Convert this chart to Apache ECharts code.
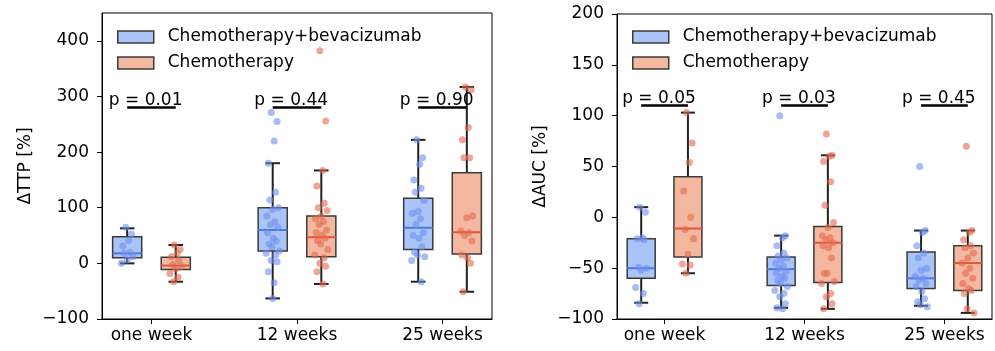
<!DOCTYPE html>
<html>
<head>
<meta charset="utf-8">
<script src="https://cdn.jsdelivr.net/npm/echarts@6/dist/echarts.min.js"></script>
<style>
  html, body { margin: 0; padding: 0; background: #fff; }
  #main { width: 995px; height: 351px; }
</style>
</head>
<body>
<div id="main"></div>
<script>
const categories = ['one week', '12 weeks', '25 weeks'];
const groupNames = ['Chemotherapy+bevacizumab', 'Chemotherapy'];

// box stats per time point: [low whisker, q1, median, q3, high whisker]
const ttpBoxBev = [[0, 10, 18, 48, 63], [-63, 22, 60, 100, 180], [-33, 25, 64, 117, 222]];
const ttpBoxChemo = [[-33, -11, -4, 11, 33], [-37, 12, 47, 85, 167], [-51, 17, 56, 163, 317]];
const aucBoxBev = [[-84, -60, -50, -21, 10], [-89, -67, -51, -39, -18], [-87, -70, -60, -34, -13]];
const aucBoxChemo = [[-55, -39, -11, 40, 103], [-90, -64, -25, -9, 61], [-94, -72, -45, -28, -13]];

// individual points per time point
const ttpPtsBev = [
  [65, 53, 41, 31, 20, 18, 12, 6, 0],
  [271, 255, 220, 180, 128, 114, 100, 97, 85, 75, 70, 65, 55, 45, 40, 35, 30, 22, 18, 15, 5, 3, -15, -35, -63],
  [222, 190, 178, 150, 135, 128, 113, 93, 90, 80, 70, 55, 50, 45, 30, 20, 15, 12, 5, -33]
];
const ttpPtsChemo = [
  [33, 25, 18, 12, 5, -2, -5, -10, -18, -25, -33],
  [382, 256, 167, 139, 108, 100, 95, 85, 80, 75, 70, 60, 55, 50, 45, 40, 35, 25, 15, 10, 0, -5, -15, -37],
  [317, 312, 244, 222, 190, 190, 85, 82, 58, 55, 50, 40, 15, 10, 0, -51]
];
const aucPtsBev = [
  [10, 5, -20, -21, -22, -49, -50, -52, -69, -75, -85],
  [100, -18, -20, -28, -35, -38, -40, -42, -45, -48, -50, -53, -55, -58, -60, -62, -65, -68, -72, -75, -78, -85, -89, -90],
  [50, -13, -15, -28, -35, -40, -50, -52, -58, -60, -62, -65, -68, -73, -80, -83, -86, -88]
];
const aucPtsChemo = [
  [103, 73, 54, 26, 0, -12, -21, -36, -46, -47, -55],
  [82, 61, 60, 55, 35, 12, -5, -10, -18, -20, -22, -25, -28, -30, -40, -55, -55, -63, -65, -75, -78, -85, -90],
  [70, -13, -15, -22, -28, -30, -35, -40, -45, -50, -55, -60, -65, -70, -72, -75, -90, -94]
];

// fixed horizontal jitter of the strip points (category units)
const jitter = [-0.01, 0.03, 0.01, -0.03, 0.02, -0.02, 0.04, 0.0, -0.04, 0.015, -0.015, 0.035,
  -0.035, 0.005, 0.025, -0.025, -0.005, 0.045, -0.045, 0.02, -0.01, 0.03, -0.03, 0.01, 0.0];

const ttpTicks = [-100, 0, 100, 200, 300, 400];
const aucTicks = [-100, -50, 0, 50, 100, 150, 200];

const ttpP = ['0.01', '0.44', '0.90'];
const aucP = ['0.05', '0.03', '0.45'];

const FONT = 'DejaVu Sans';
const OFF = 0.167, BOX_W = 0.2, CAP_W = 0.1;
const boxFill = ['#abc4f8', '#f4b8a1'];
const medColor = ['#4a78e6', '#e2553c'];
const ptColor = ['#6d90f0', '#e5694f'];
const edge = '#3a3a3a';

function boxSeries(gi, stats, panel) {
  const off = gi === 0 ? -OFF : OFF;
  return {
    type: 'custom', name: groupNames[gi], xAxisIndex: panel, yAxisIndex: panel, z: 2,
    data: stats.map((s, i) => [i].concat(s)),
    renderItem: function (params, api) {
      const x = api.value(0) + off;
      const p = k => api.coord([x, api.value(k)]);
      const lo = p(1), q1 = p(2), md = p(3), q3 = p(4), hi = p(5);
      const hw = api.size([BOX_W, 0])[0] / 2;
      const cw = api.size([CAP_W, 0])[0] / 2;
      const wl = { stroke: '#222', lineWidth: 2 };
      return {
        type: 'group',
        children: [
          { type: 'line', shape: { x1: lo[0], y1: lo[1], x2: q1[0], y2: q1[1] }, style: wl },
          { type: 'line', shape: { x1: q3[0], y1: q3[1], x2: hi[0], y2: hi[1] }, style: wl },
          { type: 'line', shape: { x1: lo[0] - cw, y1: lo[1], x2: lo[0] + cw, y2: lo[1] }, style: wl },
          { type: 'line', shape: { x1: hi[0] - cw, y1: hi[1], x2: hi[0] + cw, y2: hi[1] }, style: wl },
          { type: 'rect', shape: { x: q3[0] - hw, y: q3[1], width: hw * 2, height: q1[1] - q3[1] },
            style: { fill: boxFill[gi], stroke: edge, lineWidth: 1.5 } },
          { type: 'line', shape: { x1: md[0] - hw, y1: md[1], x2: md[0] + hw, y2: md[1] },
            style: { stroke: medColor[gi], lineWidth: 2 } }
        ]
      };
    }
  };
}

function pointSeries(gi, pts, panel) {
  const off = gi === 0 ? -OFF : OFF;
  const data = [];
  pts.forEach((vals, i) => {
    vals.forEach((v, j) => data.push([i + off + jitter[j % jitter.length], v]));
  });
  return {
    type: 'scatter', xAxisIndex: panel, yAxisIndex: panel, z: 3,
    symbolSize: 7, data: data,
    itemStyle: { color: ptColor[gi], opacity: 0.6 },
    silent: true
  };
}

function pSeries(labels, yVal, panel) {
  return {
    type: 'custom', xAxisIndex: panel, yAxisIndex: panel, z: 4, silent: true,
    data: labels.map((l, i) => [i, yVal]),
    renderItem: function (params, api) {
      const a = api.coord([api.value(0) - OFF, api.value(1)]);
      const b = api.coord([api.value(0) + OFF, api.value(1)]);
      const t = api.coord([api.value(0) - 0.04, api.value(1)]);
      return {
        type: 'group',
        children: [
          { type: 'line', shape: { x1: a[0], y1: a[1], x2: b[0], y2: b[1] }, style: { stroke: '#000', lineWidth: 2.5 } },
          { type: 'text', x: t[0], y: t[1] + 1.5,
            style: { text: 'p = ' + labels[params.dataIndex], fill: '#000', font: '17px "' + FONT + '"',
              align: 'center', verticalAlign: 'bottom' } }
        ]
      };
    }
  };
}

function xAxisOf(panel) {
  return {
    type: 'value', gridIndex: panel, min: -0.34, max: 2.34,
    splitLine: { show: false },
    axisLine: { onZero: false, lineStyle: { color: '#000', width: 1 } },
    axisTick: { customValues: [0, 1, 2], length: 5, lineStyle: { color: '#000' } },
    axisLabel: { customValues: [0, 1, 2], formatter: v => categories[Math.round(v)],
      color: '#000', fontFamily: FONT, fontSize: 17, margin: 8 }
  };
}

function yAxisOf(panel, name, min, max, ticks) {
  return {
    type: 'value', gridIndex: panel, min: min, max: max,
    name: name, nameLocation: 'middle', nameGap: 68,
    nameTextStyle: { color: '#000', fontFamily: FONT, fontSize: 17 },
    splitLine: { show: false },
    axisLine: { show: true, onZero: false, lineStyle: { color: '#000', width: 1 } },
    axisTick: { show: true, customValues: ticks, length: 5, lineStyle: { color: '#000' } },
    axisLabel: { customValues: ticks, color: '#000', fontFamily: FONT, fontSize: 17, margin: 13,
      formatter: v => String(v).replace('-', '\u2212') }
  };
}

function legendOf(left, top) {
  return {
    left: left, top: top, orient: 'vertical', padding: 0,
    itemWidth: 36, itemHeight: 12, itemGap: 6, icon: 'rect', selectedMode: false,
    textStyle: { color: '#000', fontFamily: FONT, fontSize: 17, lineHeight: 20, padding: [0, 0, 0, 9] },
    data: groupNames.map((n, gi) => ({
      name: n, itemStyle: { color: boxFill[gi], borderColor: edge, borderWidth: 1.5 }
    }))
  };
}

const chart = echarts.init(document.getElementById('main'), null, { renderer: 'canvas' });
chart.setOption({
  animation: false,
  backgroundColor: '#fff',
  grid: [
    { left: 102, right: 503, top: 13, bottom: 32, show: true, borderColor: '#000', borderWidth: 1 },
    { left: 617, right: 3, top: 14, bottom: 32, show: true, borderColor: '#000', borderWidth: 1 }
  ],
  legend: [legendOf(117, 27), legendOf(632, 27)],
  xAxis: [xAxisOf(0), xAxisOf(1)],
  yAxis: [yAxisOf(0, '\u0394TTP [%]', -100, 450, ttpTicks), yAxisOf(1, '\u0394AUC [%]', -100, 200, aucTicks)],
  series: [
    boxSeries(0, ttpBoxBev, 0), boxSeries(1, ttpBoxChemo, 0),
    pointSeries(0, ttpPtsBev, 0), pointSeries(1, ttpPtsChemo, 0),
    pSeries(ttpP, 280, 0),
    boxSeries(0, aucBoxBev, 1), boxSeries(1, aucBoxChemo, 1),
    pointSeries(0, aucPtsBev, 1), pointSeries(1, aucPtsChemo, 1),
    pSeries(aucP, 110, 1)
  ]
});
</script>
</body>
</html>
